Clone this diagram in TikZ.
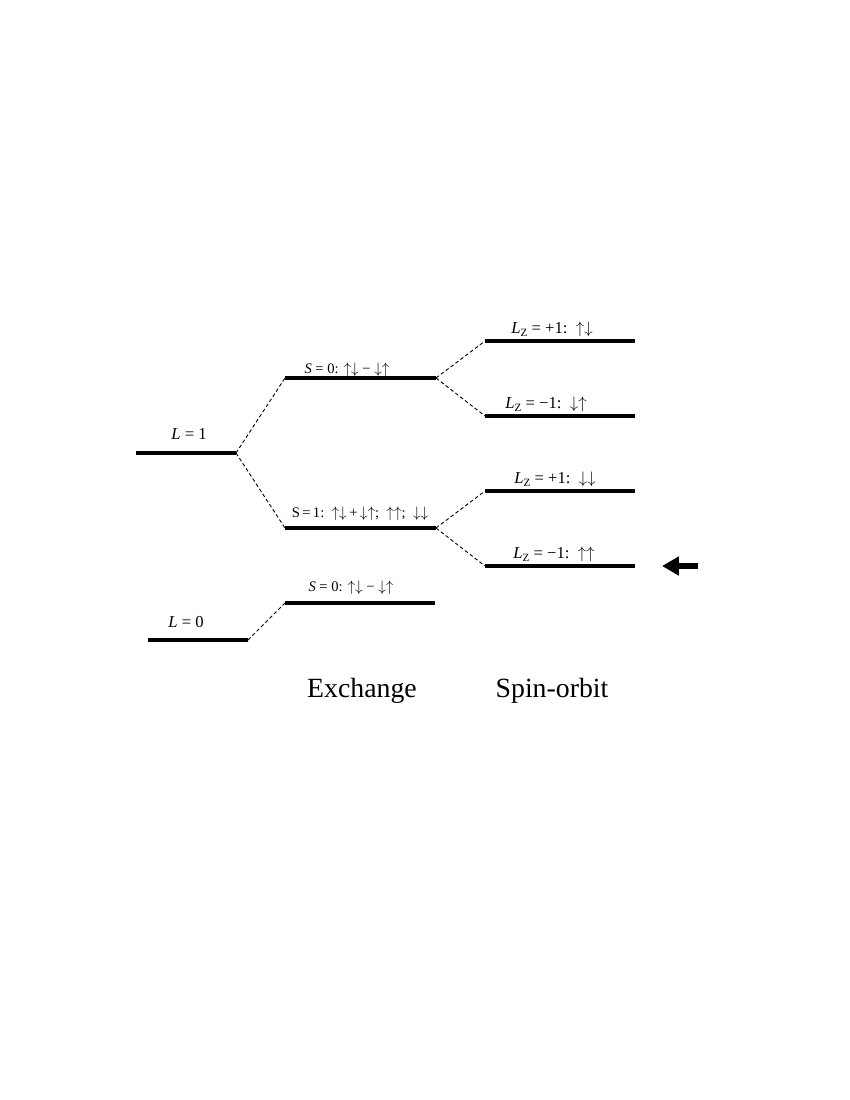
\documentclass[tikz,border=0pt]{standalone}
\usepackage{fontspec}
\setmainfont{Liberation Serif}
\usetikzlibrary{arrows.meta, positioning, calc}
\tikzset{
    lvl/.style={line width=2.9pt},
    link/.style={line width=0.65pt, dash pattern=on 2.6pt off 1.8pt},
    lvltext/.style={anchor=base, inner sep=0pt, font=\fontsize{12}{14}\selectfont},
    statetext/.style={anchor=base, inner sep=0pt, font=\fontsize{10.5}{12}\selectfont},
    coltext/.style={anchor=base, inner sep=0pt, font=\fontsize{20}{24}\selectfont},
    pointer/.style={line width=5pt, -{Triangle[width=13pt, length=12pt, sep=1.5pt]}},
}
\newcommand{\Lzed}{\textit{L}\raisebox{-0.45ex}{\fontsize{8}{9}\selectfont Z}}
\newcommand{\spu}{$\uparrow$}
\newcommand{\spd}{$\downarrow$}

\begin{document}
\begin{tikzpicture}[x=0.72pt, y=-0.72pt]
    \useasboundingbox (0,0) rectangle (850,1100);

    % Left: orbital levels
    \coordinate (lone-w) at (136,453);  \coordinate (lone-e) at (236,453);
    \coordinate (lzero-w) at (148,640); \coordinate (lzero-e) at (248,640);

    % Middle: exchange
    \coordinate (sing-w) at (285,378);  \coordinate (sing-e) at (436,378);
    \coordinate (trip-w) at (285,528);  \coordinate (trip-e) at (436,528);
    \coordinate (gnd-w) at (285,603);   \coordinate (gnd-e) at (435,603);

    % Right: spin-orbit
    \coordinate (soa-w) at (485,341);   \coordinate (soa-e) at (635,341);
    \coordinate (sob-w) at (485,416);   \coordinate (sob-e) at (635,416);
    \coordinate (soc-w) at (485,491);   \coordinate (soc-e) at (635,491);
    \coordinate (sod-w) at (485,566);   \coordinate (sod-e) at (635,566);

    % Pointer
    \coordinate (ptr-tail) at (698,566);
    \coordinate (ptr-tip) at (660,566);

    % Levels
    \foreach \lv in {lone, lzero, sing, trip, gnd, soa, sob, soc, sod}
        \draw[lvl] (\lv-w) -- (\lv-e);

    % Labels
    \node[lvltext] (lonelab) at (189,439) {\textit{L} = 1};
    \node[lvltext] (lzerolab) at (186,627) {\textit{L} = 0};
    \node[statetext] (singlab) at (347,373) {\textit{S} = 0: \spu\spd{} − \spd\spu};
    \node[statetext] (triplab) at (360,517) {S\,=\,1:\enspace \spu\spd\,+\,\spd\spu;\enspace \spu\spu;\enspace \spd\spd};
    \node[statetext] (gndlab) at (351,591) {\textit{S} = 0: \spu\spd{} − \spd\spu};
    \node[lvltext] (soalab) at (552,333) {\Lzed{} = +1:\enspace\spu\spd};
    \node[lvltext] (soblab) at (546,408) {\Lzed{} = −1:\enspace\spd\spu};
    \node[lvltext] (soclab) at (555,483) {\Lzed{} = +1:\enspace\spd\spd};
    \node[lvltext] (sodlab) at (554,558) {\Lzed{} = −1:\enspace\spu\spu};
    \node[coltext] (exch) at (362,697) {Exchange};
    \node[coltext] (spinorb) at (552,697) {Spin-orbit};

    % Splittings
    \draw[link] (lone-e) -- (sing-w);
    \draw[link] (lone-e) -- (trip-w);
    \draw[link] (lzero-e) -- (gnd-w);
    \draw[link] (sing-e) -- (soa-w);
    \draw[link] (sing-e) -- (sob-w);
    \draw[link] (trip-e) -- (soc-w);
    \draw[link] (trip-e) -- (sod-w);

    \draw[pointer] (ptr-tail) -- (ptr-tip);
\end{tikzpicture}
\end{document}
